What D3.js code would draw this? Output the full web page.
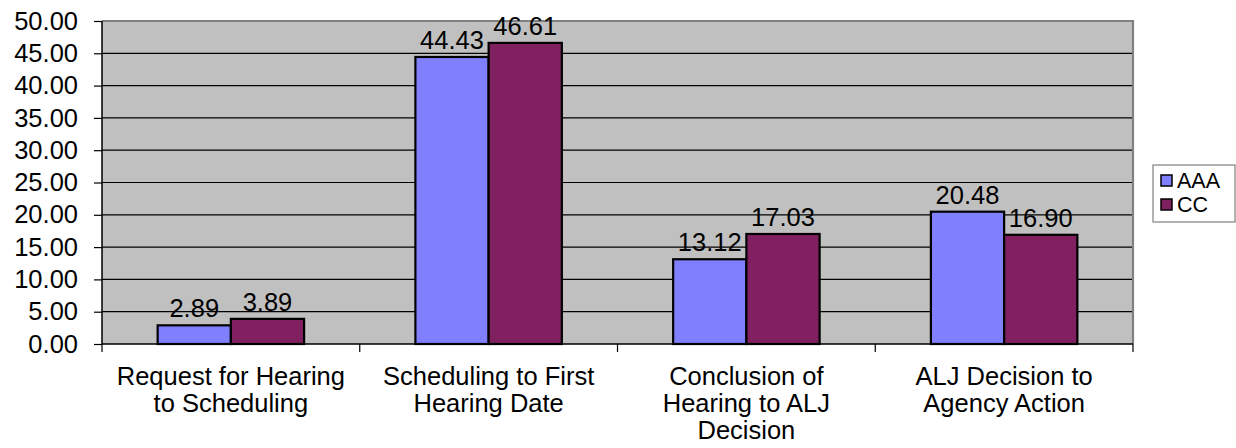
<!DOCTYPE html>
<html>
<head>
<meta charset="utf-8">
<script src="https://cdn.jsdelivr.net/npm/d3@7/dist/d3.min.js"></script>
<style>
  html, body { margin: 0; padding: 0; background: #fff; }
  svg { display: block; font-family: "Liberation Sans", Arial, sans-serif; }
</style>
</head>
<body>
<svg id="chart" width="1236" height="448"></svg>
<script>
// Average days per processing stage
const categories = [
  ["Request for Hearing", "to Scheduling"],
  ["Scheduling to First", "Hearing Date"],
  ["Conclusion of", "Hearing to ALJ", "Decision"],
  ["ALJ Decision to", "Agency Action"]
];
const seriesNames = ["AAA", "CC"];
const aaaValues = [2.89, 44.43, 13.12, 20.48];
const ccValues = [3.89, 46.61, 17.03, 16.90];
const yTicks = [0, 5, 10, 15, 20, 25, 30, 35, 40, 45, 50];
const seriesColors = ["#8080FF", "#802060"];

const FONT = 25.5;

const svg = d3.select("#chart");
const margin = { left: 102, top: 21, right: 103, bottom: 104 };
const W = 1236 - margin.left - margin.right;
const H = 448 - margin.top - margin.bottom;

const g = svg.append("g").attr("transform", `translate(${margin.left},${margin.top})`);

const catKeys = categories.map((c, i) => i);
const x0 = d3.scaleBand().domain(catKeys).range([0, W]).padding(0);
const x1 = d3.scaleBand().domain(seriesNames).range([0, x0.bandwidth()])
  .paddingInner(0).paddingOuter(0.76);
const y = d3.scaleLinear().domain([0, 50]).range([H, 0]);

// Plot background
g.append("rect").attr("x", 0).attr("y", 0).attr("width", W).attr("height", H)
  .attr("fill", "#C0C0C0");

// Horizontal gridlines
g.append("g").selectAll("line").data(yTicks.filter(d => d > 0 && d < 50)).join("line")
  .attr("x1", 0).attr("x2", W)
  .attr("y1", d => y(d)).attr("y2", d => y(d))
  .attr("stroke", "#000").attr("stroke-width", 1.2);

// Top and right frame of the plot area
g.append("path")
  .attr("d", `M0,${y(50)}H${W}V${H}`)
  .attr("fill", "none").attr("stroke", "#808080").attr("stroke-width", 2.2);

// Bars
const rows = catKeys.map(i => [
  { key: seriesNames[0], cat: i, value: aaaValues[i], color: seriesColors[0] },
  { key: seriesNames[1], cat: i, value: ccValues[i], color: seriesColors[1] }
]);

const groups = g.append("g").selectAll("g").data(rows).join("g")
  .attr("transform", (d, i) => `translate(${x0(i)},0)`);

groups.selectAll("rect").data(d => d).join("rect")
  .attr("x", d => x1(d.key))
  .attr("y", d => y(d.value))
  .attr("width", x1.bandwidth())
  .attr("height", d => y(0) - y(d.value))
  .attr("fill", d => d.color)
  .attr("stroke", "#000").attr("stroke-width", 2.2);

groups.selectAll("text").data(d => d).join("text")
  .attr("x", d => x1(d.key) + x1.bandwidth() / 2)
  .attr("y", d => y(d.value) - 8)
  .attr("text-anchor", "middle")
  .attr("font-size", FONT)
  .attr("fill", "#000")
  .text(d => d.value.toFixed(2));

// Y axis
const yAxis = g.append("g")
  .call(d3.axisLeft(y).tickValues(yTicks).tickFormat(d3.format(".2f")).tickSize(8).tickPadding(16));
yAxis.select(".domain").attr("stroke", "#000").attr("stroke-width", 1.5).attr("d", `M0,${y(50)}V${H}`);
yAxis.selectAll(".tick line").attr("stroke", "#000").attr("stroke-width", 1.2);
yAxis.selectAll(".tick text").attr("font-size", FONT).attr("fill", "#000")
  .attr("font-family", "'Liberation Sans', Arial, sans-serif");

// X axis
const xAxisG = g.append("g").attr("transform", `translate(0,${H})`);
xAxisG.append("line").attr("x1", 0).attr("x2", W).attr("y1", 0).attr("y2", 0)
  .attr("stroke", "#000").attr("stroke-width", 1.5);
const boundaries = catKeys.map(i => x0(i)).concat([W]);
xAxisG.selectAll("line.tk").data(boundaries).join("line").attr("class", "tk")
  .attr("x1", d => d).attr("x2", d => d).attr("y1", 0).attr("y2", 8)
  .attr("stroke", "#000").attr("stroke-width", 1.2);

const catLabels = xAxisG.selectAll("text.cat").data(categories).join("text")
  .attr("class", "cat")
  .attr("text-anchor", "middle")
  .attr("font-size", FONT)
  .attr("fill", "#000")
  .attr("transform", (d, i) => `translate(${x0(i) + x0.bandwidth() / 2},41)`);
catLabels.selectAll("tspan").data(d => d).join("tspan")
  .attr("x", 0).attr("dy", (d, i) => i === 0 ? 0 : 27)
  .text(d => d);

// Legend
const legend = svg.append("g").attr("transform", "translate(1153,165)");
legend.append("rect").attr("x", 0).attr("y", 0).attr("width", 82).attr("height", 57)
  .attr("fill", "#fff").attr("stroke", "#808080").attr("stroke-width", 1.2);
const items = legend.selectAll("g").data(seriesNames).join("g")
  .attr("transform", (d, i) => `translate(8,${10 + i * 24})`);
items.append("rect").attr("width", 11).attr("height", 11)
  .attr("fill", (d, i) => seriesColors[i]).attr("stroke", "#000").attr("stroke-width", 1.5);
items.append("text").attr("x", 16).attr("y", 13).attr("font-size", 21.5).attr("fill", "#000")
  .text(d => d);
</script>
</body>
</html>
